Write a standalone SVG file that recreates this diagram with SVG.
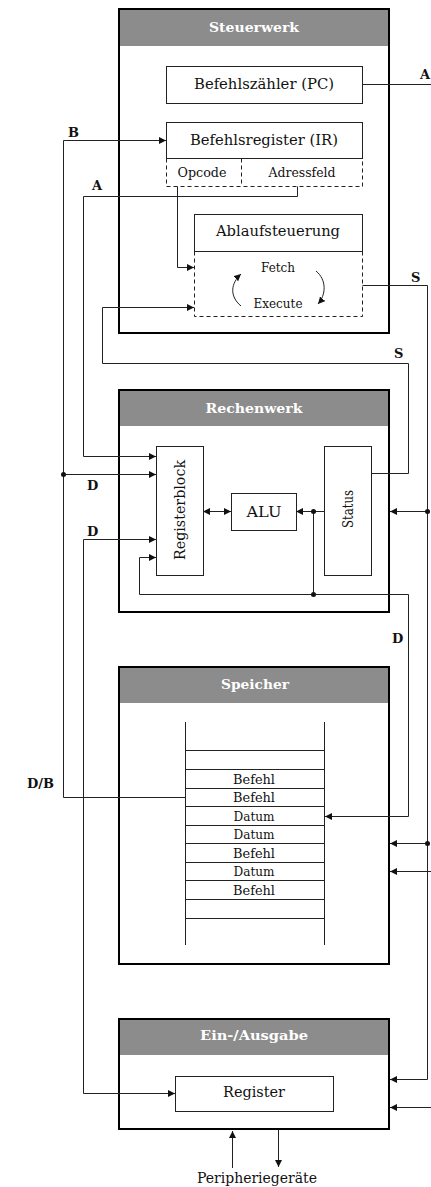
<svg xmlns="http://www.w3.org/2000/svg" width="431" height="1187" viewBox="0 0 431 1187">
<defs>
<style>
.frame{fill:#fff;stroke:#000;stroke-width:2}
.head{fill:#8c8c8c}
.ht{font-family:"DejaVu Serif","Liberation Serif",serif;font-weight:bold;font-size:13px;fill:#fff;text-anchor:middle}
.box{fill:#fff;stroke:#222;stroke-width:1}
.dash{fill:none;stroke:#222;stroke-width:1;stroke-dasharray:4,3}
.t{font-family:"DejaVu Serif","Liberation Serif",serif;font-size:14px;fill:#111;text-anchor:middle}
.s{font-family:"DejaVu Serif","Liberation Serif",serif;font-size:12px;fill:#111;text-anchor:middle}
.lb{font-family:"DejaVu Serif","Liberation Serif",serif;font-weight:bold;font-size:13px;fill:#111}
.ln{fill:none;stroke:#222;stroke-width:1}
.ar{fill:none;stroke:#222;stroke-width:1;marker-end:url(#ah)}
.dot{fill:#111}
</style>
<marker id="ah" markerUnits="userSpaceOnUse" markerWidth="8" markerHeight="8" refX="7" refY="3.5" orient="auto"><path d="M0,0 L7,3.5 L0,7 z" fill="#111"/></marker>
<marker id="ahs" markerUnits="userSpaceOnUse" markerWidth="8" markerHeight="8" refX="7" refY="3.5" orient="auto-start-reverse"><path d="M0,0 L7,3.5 L0,7 z" fill="#111"/></marker>
</defs>
<rect width="431" height="1187" fill="#fff"/>

<g id="steuerwerk">
<rect class="frame" x="119" y="9" width="270" height="324"/>
<rect class="head" x="120" y="10" width="268" height="36"/>
<text class="ht" x="254" y="32" textLength="90" lengthAdjust="spacingAndGlyphs">Steuerwerk</text>
</g>
<g id="pc">
<rect class="box" x="166.5" y="66.5" width="196" height="37"/>
<text class="t" x="264" y="89" textLength="140" lengthAdjust="spacingAndGlyphs">Befehlszähler (PC)</text>
</g>
<g id="ir">
<rect class="box" x="166.5" y="122.5" width="196" height="36"/>
<text class="t" x="264" y="145" textLength="148" lengthAdjust="spacingAndGlyphs">Befehlsregister (IR)</text>
<path class="dash" d="M166.5,158.5 V186.5 H362.5 V158.5 M241.5,158.5 V186.5"/>
<text class="s" x="202" y="177" textLength="49" lengthAdjust="spacingAndGlyphs">Opcode</text>
<text class="s" x="302" y="177" textLength="67" lengthAdjust="spacingAndGlyphs">Adressfeld</text>
</g>
<g id="ablaufsteuerung">
<rect class="box" x="194.5" y="214.5" width="168" height="37"/>
<text class="t" x="278" y="236" textLength="124" lengthAdjust="spacingAndGlyphs">Ablaufsteuerung</text>
<path class="dash" d="M194.5,251.5 V316.5 H362.5 V251.5"/>
<text class="s" x="278" y="272" textLength="34" lengthAdjust="spacingAndGlyphs">Fetch</text>
<text class="s" x="278" y="308" textLength="49" lengthAdjust="spacingAndGlyphs">Execute</text>
<path class="ar" d="M241,306 C229,296 231,283 241,274"/>
<path class="ar" d="M316,271 C327,280 326,295 318,304"/>
</g>

<g id="rechenwerk">
<rect class="frame" x="119" y="390" width="270" height="222"/>
<rect class="head" x="120" y="391" width="268" height="35"/>
<text class="ht" x="254" y="413" textLength="97" lengthAdjust="spacingAndGlyphs">Rechenwerk</text>
</g>
<g id="registerblock">
<rect class="box" x="156.5" y="446.5" width="47" height="129"/>
<text class="t" transform="translate(180,510) rotate(-90)" x="0" y="5" textLength="100" lengthAdjust="spacingAndGlyphs">Registerblock</text>
</g>
<g id="alu">
<rect class="box" x="231.5" y="493.5" width="65" height="37"/>
<text class="t" x="264" y="517" textLength="35" lengthAdjust="spacingAndGlyphs">ALU</text>
</g>
<g id="status">
<rect class="box" x="324.5" y="446.5" width="47" height="129"/>
<text class="t" transform="translate(348,509) rotate(-90)" x="0" y="5" textLength="38" lengthAdjust="spacingAndGlyphs">Status</text>
</g>

<g id="speicher">
<rect class="frame" x="119" y="667" width="270" height="297"/>
<rect class="head" x="120" y="668" width="268" height="35"/>
<text class="ht" x="255" y="689" textLength="68" lengthAdjust="spacingAndGlyphs">Speicher</text>
<path class="ln" d="M185.5,722 V945 M324.5,722 V945 M185.5,750.5 H324.5 M185.5,769.5 H324.5 M185.5,788.5 H324.5 M185.5,806.5 H324.5 M185.5,825.5 H324.5 M185.5,843.5 H324.5 M185.5,862.5 H324.5 M185.5,880.5 H324.5 M185.5,899.5 H324.5 M185.5,918.5 H324.5"/>
<text class="s" x="254" y="784" textLength="42" lengthAdjust="spacingAndGlyphs">Befehl</text>
<text class="s" x="254" y="802" textLength="42" lengthAdjust="spacingAndGlyphs">Befehl</text>
<text class="s" x="254" y="821" textLength="41" lengthAdjust="spacingAndGlyphs">Datum</text>
<text class="s" x="254" y="839" textLength="41" lengthAdjust="spacingAndGlyphs">Datum</text>
<text class="s" x="254" y="858" textLength="42" lengthAdjust="spacingAndGlyphs">Befehl</text>
<text class="s" x="254" y="876" textLength="41" lengthAdjust="spacingAndGlyphs">Datum</text>
<text class="s" x="254" y="895" textLength="42" lengthAdjust="spacingAndGlyphs">Befehl</text>
</g>

<g id="einausgabe">
<rect class="frame" x="119" y="1019" width="270" height="110"/>
<rect class="head" x="120" y="1020" width="268" height="35"/>
<text class="ht" x="254" y="1040" textLength="108" lengthAdjust="spacingAndGlyphs">Ein-/Ausgabe</text>
<rect class="box" x="175.5" y="1076.5" width="158" height="35"/>
<text class="t" x="254" y="1097" textLength="62" lengthAdjust="spacingAndGlyphs">Register</text>
</g>
<g id="peripherie">
<text class="t" x="257" y="1183" textLength="120" lengthAdjust="spacingAndGlyphs">Peripheriegeräte</text>
</g>

<g id="connectors">
<path class="ln" d="M362.5,84.5 H431"/>
<path class="ar" d="M185,797.5 H63.5 V140.5 H166"/>
<path class="ar" d="M63.5,474.5 H156"/>
<path class="ar" d="M297.5,186.5 V196.5 H83.5 V456.5 H156"/>
<path class="ar" d="M177.5,186.5 V267.5 H194"/>
<path class="ar" d="M371,473.5 H408.5 V363.5 H102.5 V307.5 H194"/>
<path class="ar" d="M362.5,285.5 H427.5 V1079.5 H390"/>
<path class="ar" d="M427.5,511.5 H390"/>
<path class="ar" d="M427.5,843.5 H390"/>
<path class="ar" d="M431,871.5 H390"/>
<path class="ar" d="M431,1107.5 H390"/>
<path class="ln" d="M203,511.5 H231" marker-start="url(#ahs)" marker-end="url(#ah)"/>
<path class="ar" d="M324,511.5 H296"/>
<path class="ln" d="M313.5,511.5 V594.5"/>
<path class="ar" d="M408.5,594.5 H139.5 V557.5 H156"/>
<path class="ar" d="M408.5,594.5 V816.5 H325"/>
<path class="ar" d="M83.5,539.5 H156"/>
<path class="ar" d="M83.5,539.5 V1093.5 H175"/>
<path class="ar" d="M232.5,1168 V1131"/>
<path class="ar" d="M278.5,1130 V1167"/>
<circle class="dot" cx="63.5" cy="474.5" r="2.5"/>
<circle class="dot" cx="313.5" cy="511.5" r="2.5"/>
<circle class="dot" cx="313.5" cy="594.5" r="2.5"/>
<circle class="dot" cx="427.5" cy="511.5" r="2.5"/>
<circle class="dot" cx="427.5" cy="843.5" r="2.5"/>
</g>

<g id="labels">
<text class="lb" x="420" y="79">A</text>
<text class="lb" x="68" y="137">B</text>
<text class="lb" x="92" y="190">A</text>
<text class="lb" x="411" y="282">S</text>
<text class="lb" x="394" y="358">S</text>
<text class="lb" x="87" y="490">D</text>
<text class="lb" x="87" y="536">D</text>
<text class="lb" x="392" y="643">D</text>
<text class="lb" x="27" y="788">D/B</text>
</g>
</svg>
